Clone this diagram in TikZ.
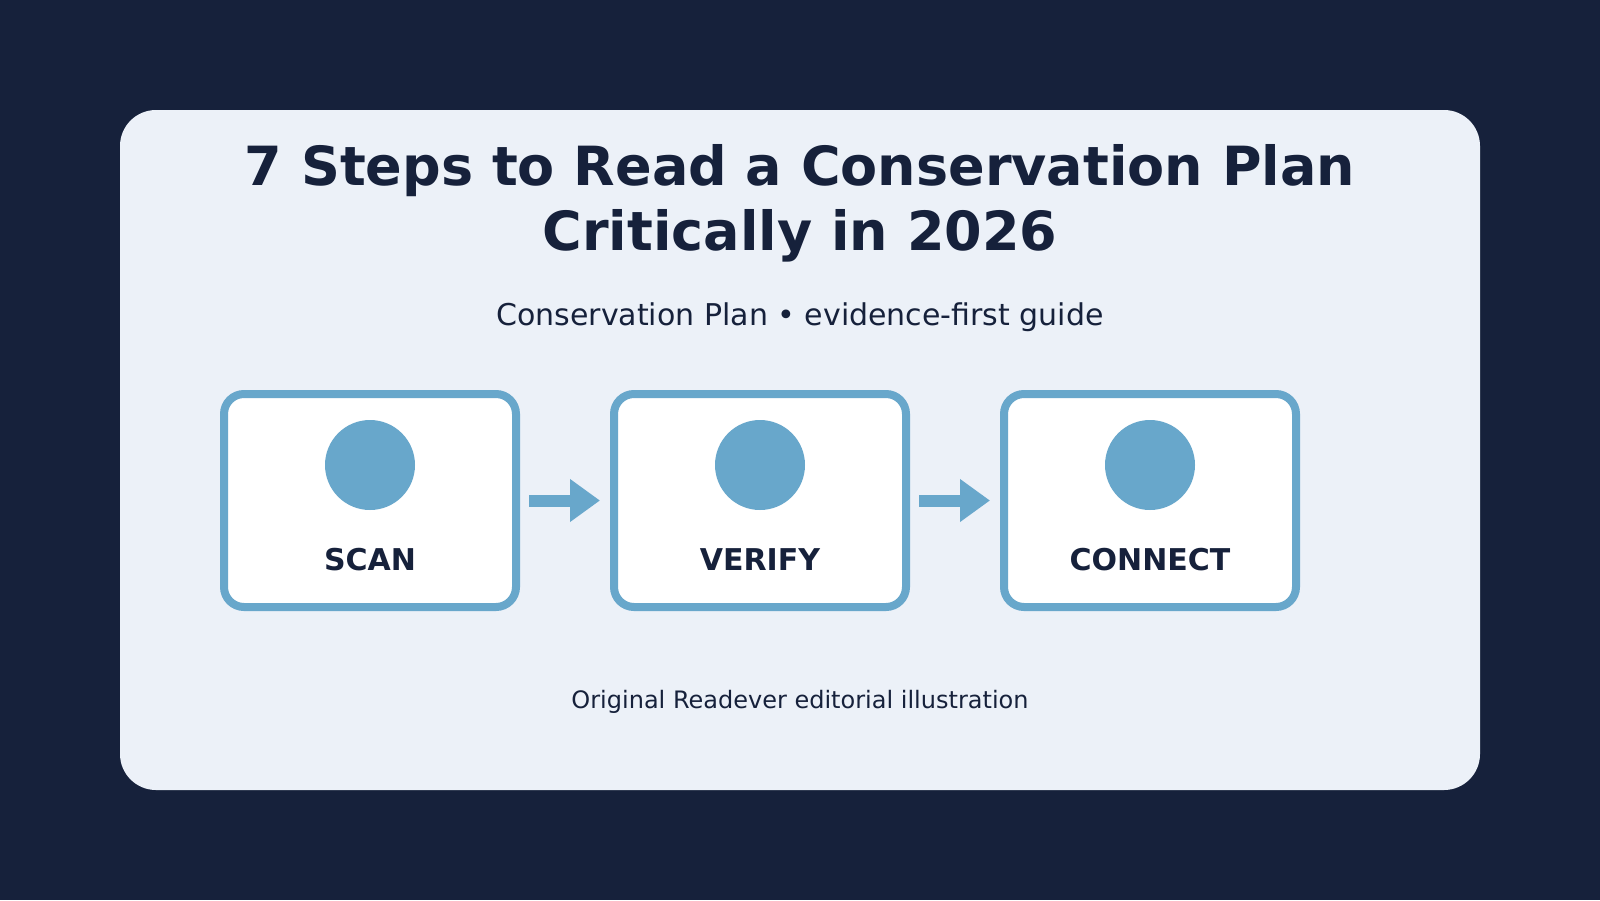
\documentclass[tikz,border=0pt]{standalone}
\usepackage{fontspec}
\setmainfont{DejaVu Sans}
\usetikzlibrary{arrows.meta}
\definecolor{navy}{HTML}{16213B}
\definecolor{cardbg}{HTML}{ECF1F8}
\definecolor{accent}{HTML}{68A7CB}
\tikzset{
  stepbox/.style={draw=accent, line width=8pt, fill=white, rounded corners=20pt, minimum width=292pt, minimum height=213pt, inner sep=0pt},
  dot/.style={circle, fill=accent, minimum size=90pt, inner sep=0pt},
  steplabel/.style={anchor=base, text=navy, font=\fontsize{30}{36}\selectfont\bfseries},
  flow/.style={draw=accent, line width=12pt, -{Triangle[length=30pt,width=41pt]}, shorten <=9pt, shorten >=10pt},
}
\begin{document}
\begin{tikzpicture}[x=1pt,y=-1pt]
\fill[navy] (0,0) rectangle (1600,900);
\useasboundingbox (0,0) rectangle (1600,900);
\fill[cardbg, rounded corners=36pt] (120,110) rectangle (1480,790);
\node[anchor=base, text=navy, font=\fontsize{54}{64}\selectfont\bfseries] (title1) at (800,185) {7 Steps to Read a Conservation Plan};
\node[anchor=base, text=navy, font=\fontsize{54}{64}\selectfont\bfseries] (title2) at (800,250) {Critically in 2026};
\node[anchor=base, text=navy, font=\fontsize{30}{36}\selectfont] (subtitle) at (800,325) {Conservation Plan • evidence-first guide};
\node[stepbox] (b1) at (370,500.5) {};
\node[stepbox] (b2) at (760,500.5) {};
\node[stepbox] (b3) at (1150,500.5) {};
\node[dot] (c1) at (370,465) {};
\node[dot] (c2) at (760,465) {};
\node[dot] (c3) at (1150,465) {};
\node[steplabel] (l1) at (370,570) {SCAN};
\node[steplabel] (l2) at (760,570) {VERIFY};
\node[steplabel] (l3) at (1150,570) {CONNECT};
\draw[flow] (b1.east) -- (b2.west);
\draw[flow] (b2.east) -- (b3.west);
\node[anchor=base, text=navy, font=\fontsize{24}{28}\selectfont] (footer) at (800,708) {Original Readever editorial illustration};
\end{tikzpicture}
\end{document}
